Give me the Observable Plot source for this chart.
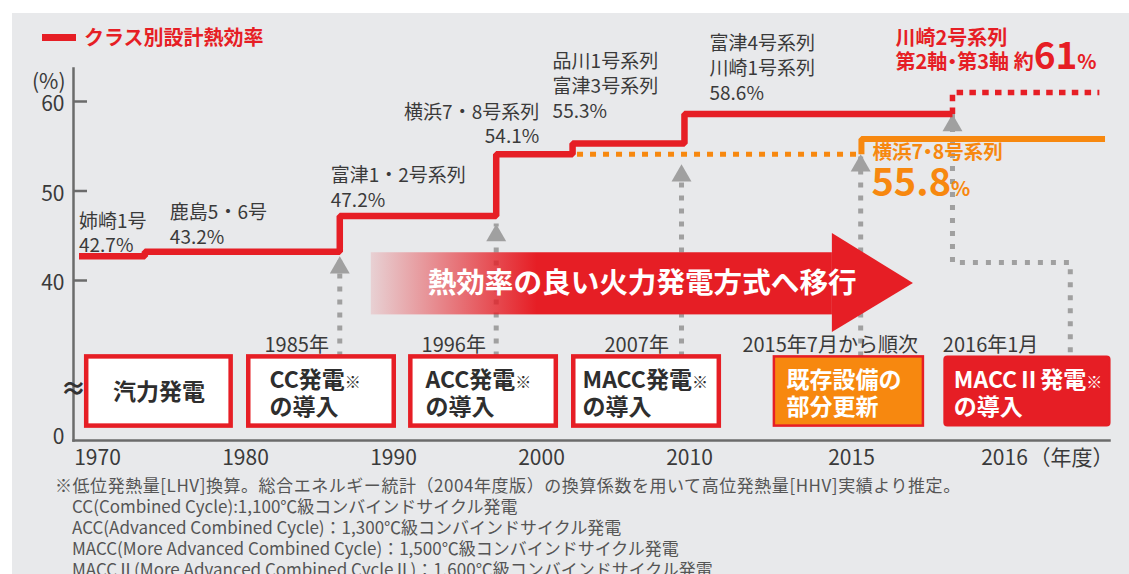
<!DOCTYPE html>
<html lang="ja">
<head>
<meta charset="utf-8">
<script src="https://cdn.jsdelivr.net/npm/d3@7"></script>
<script src="https://cdn.jsdelivr.net/npm/@observablehq/plot@0.6"></script>
<style>
  html, body { margin: 0; padding: 0; background: #ffffff; }
  body { position: relative; width: 1129px; height: 574px; overflow: hidden;
         font-family: "Noto Sans CJK JP", "Noto Sans", sans-serif; }
  #bg { position: absolute; left: 12px; top: 13px; right: 0; bottom: 0; background: #e8e9eb; }
  #chart { position: absolute; left: 0; top: 0; }
  #legend { position: absolute; left: 42px; top: 23px; height: 28px; display: flex; align-items: center;
            color: #e61e25; font-weight: bold; font-size: 20px; line-height: 28px; }
  #legend .swatch { display: inline-block; width: 34px; height: 7px; background: #e61e25; margin-right: 8px; }
  #note { position: absolute; left: 55px; top: 474px; font-size: 17px; line-height: 21px; color: #555; white-space: nowrap; }
  #note .first { letter-spacing: 0.55px; }
  #note .sub { padding-left: 17px; }
  .halt { font-feature-settings: "halt" 1; }
</style>
</head>
<body>
<div id="bg"></div>
<div id="chart"></div>
<div id="legend"><span class="swatch"></span><span id="legend-label"></span></div>
<div id="note"></div>
<script>
// ---------------- data ----------------
const legendLabel = "クラス別設計熱効率";
const xTicks = [1970, 1980, 1990, 2000, 2010, 2015, 2016];
const yTicks = [40, 50, 60];
const yZeroTick = [0];

// class-by-class design thermal efficiency (red step line)
const stepYears  = [1968.75, 1973.2, 1986.37, 1996.94, 2002.1, 2009.66, 2015.66];
const stepValues = [42.7, 43.2, 47.2, 54.1, 55.3, 58.6, 58.6];
const plantNames = ["姉崎1号", "鹿島5・6号", "富津1・2号系列", "横浜7・8号系列", "品川1号系列\n富津3号系列", "富津4号系列\n川崎1号系列"];
const plantRates = ["42.7%", "43.2%", "47.2%", "54.1%", "55.3%", "58.6%"];

// MACC II : Kawasaki 2 (about 61%)
const maccIIYears  = [2015.66, 2015.66, 2016.62];
const maccIIValues = [58.6, 61, 61];
const maccIILabel  = "川崎2号系列\n第2軸・第3軸 約61%";

// Yokohama 7/8 partial renewal (54.1% -> 55.8%)
const yokohamaYears  = [2002.4, 2015.065, 2015.065, 2016.657];
const yokohamaValues = [54.1, 54.1, 55.8, 55.8];
const yokohamaName = "横浜7・8号系列";
const yokohamaRate = "55.8%";

// introduction arrows (from era boxes up to the class line)
const introYears = [1986.37, 1996.94, 2009.46, 2015.06, 2015.66];
const introTips  = [42.7, 46.3, 53.0, 54.1, 58.6];
const maccIIRouteYears  = [2015.66, 2015.66, 2016.43, 2016.43];
const maccIIRouteValues = [58.6, 42.0, 42.0, 20.9];

// technology eras
const eraNames = ["汽力発電", "CC発電※\nの導入", "ACC発電※\nの導入", "MACC発電※\nの導入", "既存設備の\n部分更新", "MACCⅡ発電※\nの導入"];
const eraDates = ["", "1985年", "1996年", "2007年", "2015年7月から順次", "2016年1月"];
const eraStart = [1969.27, 1980.22, 1991.17, 2002.18, 2012.62, 2015.61];
const eraEnd   = [1979.03, 1990.05, 2001.0, 2010.92, 2015.47, 2016.69];

const shiftText = "熱効率の良い火力発電方式へ移行";
const notes = [
  "※低位発熱量[LHV]換算。総合エネルギー統計（2004年度版）の換算係数を用いて高位発熱量[HHV]実績より推定。",
  "CC(Combined Cycle):1,100℃級コンバインドサイクル発電",
  "ACC(Advanced Combined Cycle)：1,300℃級コンバインドサイクル発電",
  "MACC(More Advanced Combined Cycle)：1,500℃級コンバインドサイクル発電",
  "MACCⅡ(More Advanced Combined CycleⅡ)：1,600℃級コンバインドサイクル発電"
];

// ---------------- layout / style ----------------
const red = "#e61e25", orange = "#f7880f", gray = "#a0a0a0", ink = "#3a3a3a", axisInk = "#6b6b6b";
const boxTop = 20.9, boxBottom = 3.6;            // band of the broken axis holding the era boxes
const boxMid = (boxTop + boxBottom) / 2;
const shift = {tail: 1988.5, neck: 2014.41, tip: 2015.405, bodyTop: 43.1, bodyBottom: 31.4,
               headTop: 45.25, headBottom: 27.0, axis: 39.25, textAt: 2006.8};
const plantLabelLayout = [[0, -4, "start"], [25, -8, "start"], [-9, -9, "start"],
                          [43, -11, "end"], [-20, -26, "start"], [25, -14.5, "start"]];
const eraTextInset = [0, 20.75, 14.75, 8.75, 12, 9];
const eraDateInset = [0, 15.75, 10.75, 30.75, -32, -2];

document.getElementById("legend-label").textContent = legendLabel;
document.getElementById("note").innerHTML = notes.map((t, i) => `<div class="${i ? "sub" : "first"}">${t}</div>`).join("");

const svgNS = "http://www.w3.org/2000/svg";
function gradientDefs() {
  const defs = document.createElementNS(svgNS, "defs");
  const g = document.createElementNS(svgNS, "linearGradient");
  g.setAttribute("id", "shiftFade");
  g.setAttribute("x1", "0"); g.setAttribute("x2", "1"); g.setAttribute("y1", "0"); g.setAttribute("y2", "0");
  [[0, 0.12], [0.36, 1], [1, 1]].forEach(([o, a]) => {
    const s = document.createElementNS(svgNS, "stop");
    s.setAttribute("offset", o); s.setAttribute("stop-color", red); s.setAttribute("stop-opacity", a);
    g.appendChild(s);
  });
  defs.appendChild(g);
  return defs;
}

const seq = n => d3.range(n);

const marks = [
  gradientDefs,
  // axes
  Plot.frame({anchor: "left", stroke: axisInk, strokeWidth: 2.5}),
  Plot.frame({anchor: "bottom", stroke: axisInk, strokeWidth: 2.5}),
  Plot.axisY({ticks: yTicks, tickSize: -14, fill: "none", stroke: axisInk, strokeWidth: 2.5}),
  Plot.axisY({ticks: yTicks, tickSize: 0, tickPadding: 9, fontSize: 21, dy: 3, fill: ink}),
  Plot.axisY({ticks: yZeroTick, tickSize: 0, tickPadding: 9, fontSize: 21, dy: -3, fill: ink}),
  Plot.axisX({ticks: xTicks, tickSize: 0, tickPadding: 10, fontSize: 21, fill: ink, tickFormat: d => String(d)}),
  Plot.text(["（年度）"], {x: [2016], frameAnchor: "bottom", textAnchor: "start", lineAnchor: "top", dx: 25, dy: 10, fontSize: 21, fill: ink}),
  Plot.text(["(%)"], {frameAnchor: "top-left", textAnchor: "end", lineAnchor: "middle", dx: -8, dy: 14, fontSize: 21, fill: ink}),

  // grey dotted introduction arrows
  Plot.ruleX(seq(4), {x: i => introYears[i], y1: boxTop, y2: i => introTips[i], stroke: gray, strokeWidth: 5, strokeDasharray: "5,8"}),
  Plot.line(seq(4), {x: i => maccIIRouteYears[i], y: i => maccIIRouteValues[i], stroke: gray, strokeWidth: 5,
                     strokeDasharray: "5,8", strokeLinejoin: "miter", strokeLinecap: "butt"}),
  Plot.dot(seq(5), {x: i => introYears[i], y: i => introTips[i], symbol: "triangle", r: 7.4, fill: gray, stroke: "none", dy: 11.5}),

  // Yokohama 7/8 (orange)
  Plot.line([0, 1], {x: i => yokohamaYears[i], y: i => yokohamaValues[i], stroke: orange, strokeWidth: 5,
                     strokeDasharray: "6,7", strokeLinecap: "butt"}),
  Plot.line([1, 2, 3], {x: i => yokohamaYears[i], y: i => yokohamaValues[i], stroke: orange, strokeWidth: 6,
                        strokeLinejoin: "miter", strokeLinecap: "butt"}),

  // class design efficiency (red)
  Plot.line(seq(3), {x: i => maccIIYears[i], y: i => maccIIValues[i], stroke: red, strokeWidth: 5.5,
                     strokeDasharray: "6.5,6.3", strokeLinejoin: "miter", strokeLinecap: "butt"}),
  Plot.line(seq(stepYears.length), {x: i => stepYears[i], y: i => stepValues[i], curve: "step-after", stroke: red,
                     strokeWidth: 6.5, strokeLinejoin: "miter", strokeLinecap: "butt"}),

  // big shift arrow
  Plot.rect([shift], {x1: "tail", x2: "neck", y1: "bodyBottom", y2: "bodyTop", fill: "url(#shiftFade)"}),
  Plot.areaY([{x: shift.neck, y1: shift.headBottom, y2: shift.headTop}, {x: shift.tip, y1: shift.axis, y2: shift.axis}],
             {x: "x", y1: "y1", y2: "y2", fill: red}),
  Plot.text([shiftText], {x: [shift.textAt], y: [shift.axis], fill: "white", fontSize: 28.6, fontWeight: "bold"}),

  // era boxes
  Plot.rect(seq(4), {x1: i => eraStart[i], x2: i => eraEnd[i], y1: boxBottom, y2: boxTop, fill: "white", stroke: red, strokeWidth: 4.5}),
  Plot.rect([4], {x1: i => eraStart[i], x2: i => eraEnd[i], y1: boxBottom, y2: boxTop, fill: orange, stroke: red, strokeWidth: 2.5}),
  Plot.rect([5], {x1: i => eraStart[i], x2: i => eraEnd[i], y1: boxBottom, y2: boxTop, fill: red, stroke: red, strokeWidth: 2, rx: 3}),
  Plot.text([0], {x: i => (eraStart[i] + eraEnd[i]) / 2, y: boxMid, text: i => eraNames[i], dy: 1,
                  fontSize: 23, fontWeight: "bold", fill: "#2e2e2e"}),
  ...[1, 2, 3, 4, 5].map(k => Plot.text([k], {x: i => eraStart[i], y: boxMid, text: i => eraNames[i], dx: eraTextInset[k], dy: 1,
                  textAnchor: "start", lineHeight: 1.18, fontSize: 23, fontWeight: "bold", fill: k >= 4 ? "white" : "#2e2e2e"})),
  ...[1, 2, 3, 4, 5].map(k => Plot.text([k], {x: i => eraStart[i], y: boxTop, text: i => eraDates[i], dx: eraDateInset[k], dy: -5,
                  textAnchor: "start", lineAnchor: "bottom", fontSize: 20, fill: ink})),
  Plot.text(["≈"], {frameAnchor: "bottom-left", textAnchor: "middle", dy: -43, fontSize: 26, fontWeight: "bold", fill: "#333"}),

  // plant labels
  ...plantNames.map((name, k) => Plot.text([k], {x: i => stepYears[i], y: i => stepValues[i], text: i => plantNames[i] + "\n" + plantRates[i],
                  dx: plantLabelLayout[k][0], dy: plantLabelLayout[k][1], textAnchor: plantLabelLayout[k][2],
                  lineAnchor: "bottom", lineHeight: 1.3, fontSize: 19, fill: ink})),
  Plot.text([maccIILabel], {x: [maccIIYears[1]], y: [maccIIValues[2]], dx: -57, dy: -24, textAnchor: "start", lineAnchor: "bottom",
                  lineHeight: 1.2, fontSize: 20, fontWeight: "bold", fill: red}),
  Plot.text([yokohamaName], {x: [yokohamaYears[2]], y: [yokohamaValues[2]], dx: 11, dy: 19.5, textAnchor: "start", lineAnchor: "bottom",
                  fontSize: 19.5, fontWeight: "bold", fill: orange}),
  Plot.text([yokohamaRate], {x: [yokohamaYears[2]], y: [yokohamaValues[2]], dx: 10, dy: 56.5, textAnchor: "start", lineAnchor: "bottom",
                  fontSize: 20, fontWeight: "bold", fill: orange})
];

const chart = Plot.plot({
  width: 1129,
  height: 478,
  marginLeft: 73,
  marginRight: 20,
  marginTop: 68,
  marginBottom: 38,
  x: {type: "linear", domain: [1970, 2010, 2015, 2016], range: [97, 689, 851, 1004]},
  y: {type: "linear", domain: [0, 40, 60], range: [440, 280, 101]},
  style: {background: "transparent", color: ink, fontFamily: '"Noto Sans CJK JP", "Noto Sans", sans-serif', overflow: "visible"},
  marks
});

// rich text runs: small ※ marks, half-width middle dots in the bold call-outs, enlarged headline numbers
function richText(el, s, tightDot) {
  const parts = s.split(/(※|・|61(?=%$)|55\.8(?=%$))/).filter(p => p !== "");
  el.textContent = "";
  for (const p of parts) {
    const special = p === "※" || p === "61" || p === "55.8" || (p === "・" && tightDot);
    if (!special) { el.appendChild(document.createTextNode(p)); continue; }
    const ts = document.createElementNS(svgNS, "tspan");
    if (p === "※") { ts.setAttribute("font-size", "16px"); ts.setAttribute("font-weight", "normal"); }
    else if (p === "61") ts.setAttribute("font-size", "37px");
    else if (p === "55.8") ts.setAttribute("font-size", "38px");
    else ts.setAttribute("class", "halt");
    ts.textContent = p;
    el.appendChild(ts);
  }
}
chart.querySelectorAll("text, tspan").forEach(el => {
  if (el.children.length) return;
  const s = el.textContent;
  const calloutName = s === yokohamaName && el.tagName.toLowerCase() === "text";
  if (/※/.test(s) || s === yokohamaRate || calloutName || s.endsWith("約61%")) richText(el, s, calloutName || s.endsWith("約61%"));
});

document.getElementById("chart").appendChild(chart);
</script>
</body>
</html>
